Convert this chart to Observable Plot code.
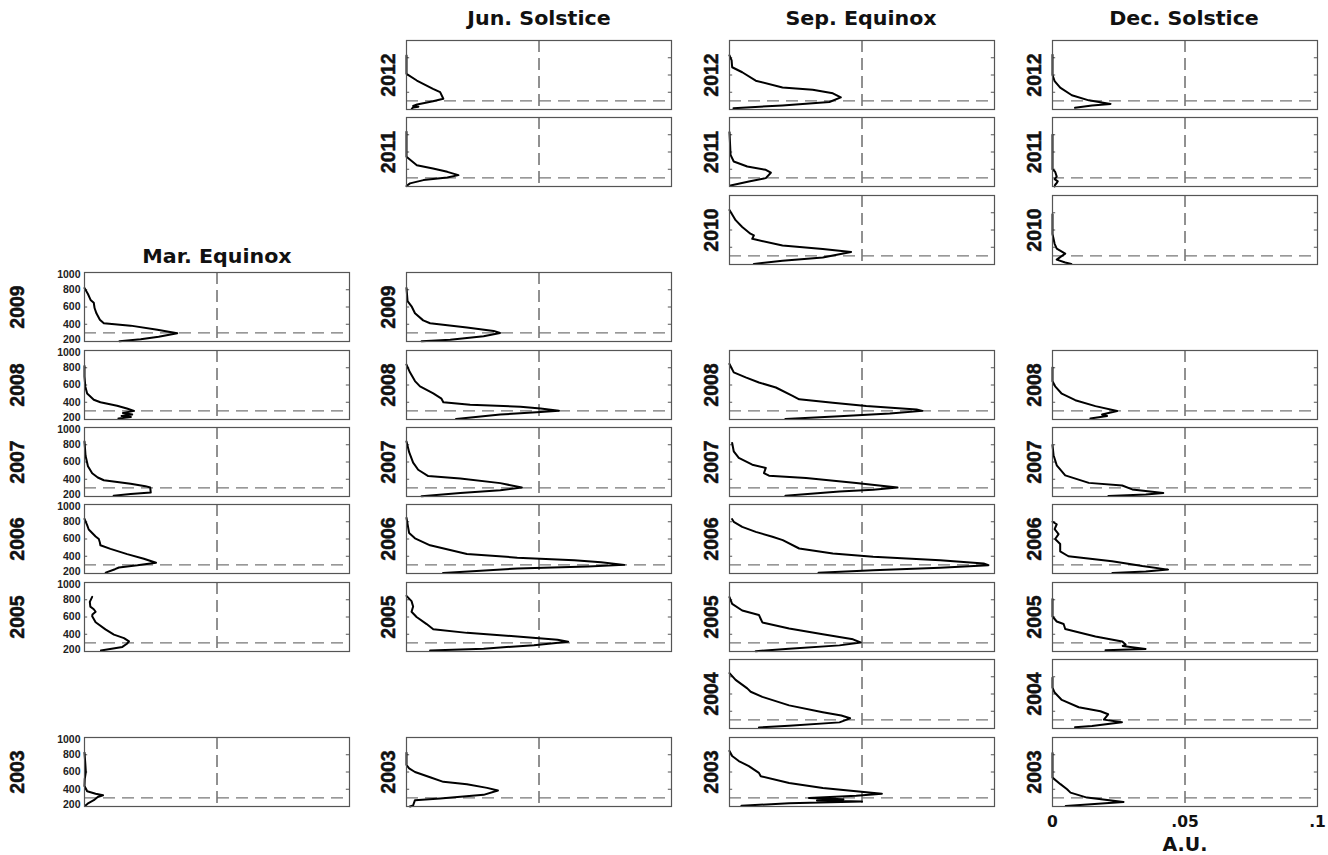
<!DOCTYPE html>
<html><head><meta charset="utf-8">
<script src="https://cdn.jsdelivr.net/npm/d3@7"></script>
<script src="https://cdn.jsdelivr.net/npm/@observablehq/plot@0.6"></script>
<style>
body{margin:0;background:#fff;font-family:"Liberation Sans",Arial,sans-serif;}
#chart{position:relative;width:1328px;height:855px;overflow:hidden;background:#fff;}
.title{position:absolute;transform:translate(-50%,-50%) scaleX(1.03);font-family:"DejaVu Sans",sans-serif;font-weight:bold;font-size:20px;color:#111;white-space:nowrap;}
.panel{position:absolute;}
.panel svg{overflow:visible;background:none;}
</style></head><body><div id="chart"></div>
<script>
// ---- categories & ticks ----
const seasons = ["Mar. Equinox", "Jun. Solstice", "Sep. Equinox", "Dec. Solstice"];
const years = [2012, 2011, 2010, 2009, 2008, 2007, 2006, 2005, 2004, 2003];
const yTicks = [200, 400, 600, 800, 1000];
const xTicks = [0, 0.05, 0.1];
const xTickLabels = ["0", ".05", ".1"];
const xLabel = "A.U.";
const refAltitude = 300;
const refValue = 0.05;

// ---- profiles: [altitude, value] ----
const mar2009 = [[820,0],[751,.0013],[682,.0023],[649,.0035],[588,.0038],[527,.0045],[453,.0058],[412,.0073],[384,.0174],[335,.0275],[295,.0350],[255,.0280],[225,.0212],[203,.0132]];
const mar2008 = [[820,0],[700,0],[584,.0003],[502,.0010],[429,.0035],[400,.0060],[359,.0123],[327,.0160],[300,.0187],[275,.0145],[258,.0180],[240,.0140],[228,.0175],[212,.0128]];
const mar2007 = [[837,0],[673,.0004],[551,.0013],[469,.0029],[420,.0050],[388,.0073],[347,.0174],[320,.0230],[305,.0248],[245,.0250],[228,.0174],[210,.0110]];
const mar2006 = [[833,0],[760,.0010],[710,.0016],[629,.0042],[600,.0054],[560,.0058],[527,.0060],[486,.0098],[425,.0161],[371,.0224],[325,.0270],[295,.0200],[270,.0130],[250,.0115],[210,.0080]];
const mar2005 = [[833,.0029],[776,.0020],[720,.0022],[690,.0035],[661,.0042],[630,.0030],[608,.0029],[539,.0042],[457,.0079],[396,.0111],[355,.0149],[318,.0168],[290,.0160],[253,.0143],[212,.0062]];
const mar2003 = [[824,0],[700,.0003],[600,.0005],[520,.0001],[437,0],[376,.0010],[347,.0042],[330,.0070],[310,.0050],[273,.0035],[240,.0015],[212,.0004]];

const jun2012 = [[826,0],[614,0],[536,.0039],[440,.0100],[401,.0127],[324,.0139],[296,.0100],[258,.0040],[240,.0025],[232,.0045],[222,.0025],[208,.0020]];
const jun2011 = [[834,0],[544,0],[447,.0039],[409,.0100],[370,.0154],[332,.0196],[305,.0154],[274,.0064],[236,.0013],[205,0]];
const jun2009 = [[820,0],[669,.0004],[608,.0019],[527,.0032],[445,.0063],[412,.0089],[363,.0228],[323,.0329],[298,.0353],[261,.0291],[220,.0165],[203,.0057]];
const jun2008 = [[837,0],[747,.0013],[645,.0032],[584,.0051],[502,.0101],[441,.0132],[400,.0139],[372,.0240],[347,.0430],[327,.0506],[302,.0575],[286,.0506],[257,.0354],[207,.0187]];
const jun2007 = [[837,0],[714,.0010],[592,.0025],[510,.0044],[437,.0082],[408,.0203],[355,.0354],[304,.0435],[273,.0354],[241,.0203],[204,.0057]];
const jun2006 = [[845,0],[669,.0010],[608,.0032],[527,.0089],[425,.0228],[384,.0418],[355,.0633],[331,.0734],[300,.0822],[282,.0684],[257,.0418],[207,.0138]];
const jun2005 = [[845,0],[784,.0019],[722,.0025],[661,.0019],[600,.0038],[518,.0076],[457,.0101],[416,.0228],[375,.0418],[335,.0570],[312,.0610],[273,.0481],[233,.0291],[212,.0089]];
const jun2003 = [[824,0],[681,0],[641,.0010],[600,.0032],[539,.0089],[486,.0139],[457,.0228],[416,.0304],[385,.0345],[335,.0291],[294,.0127],[273,.0032],[240,.0028],[212,.0025],[200,.0013]];

const sep2012 = [[828,0],[769,.0008],[690,.0010],[632,.0048],[534,.0099],[455,.0200],[428,.0314],[388,.0390],[340,.0420],[287,.0377],[247,.0200],[215,.0015]];
const sep2011 = [[830,0],[567,.0004],[490,.0016],[432,.0067],[393,.0137],[360,.0156],[297,.0137],[258,.0073],[212,.0004]];
const sep2010 = [[831,0],[714,.0023],[635,.0048],[557,.0079],[537,.0092],[498,.0086],[420,.0200],[380,.0352],[345,.0459],[282,.0352],[243,.0200],[207,.0092]];
const sep2008 = [[844,0],[746,.0016],[688,.0061],[629,.0111],[571,.0175],[473,.0238],[434,.0263],[395,.0390],[356,.0516],[317,.0706],[300,.0728],[270,.0605],[239,.0415],[207,.0211]];
const sep2007 = [[821,.0010],[724,.0016],[647,.0035],[569,.0086],[531,.0137],[472,.0130],[441,.0149],[414,.0289],[356,.0478],[303,.0634],[278,.0542],[259,.0415],[208,.0211]];
const sep2006 = [[830,.0010],[799,.0016],[741,.0048],[683,.0099],[626,.0162],[587,.0201],[490,.0263],[433,.0390],[394,.0542],[355,.0795],[317,.0959],[297,.0977],[266,.0795],[239,.0542],[210,.0336]];
const sep2005 = [[831,0],[753,.0010],[675,.0048],[624,.0111],[577,.0118],[537,.0124],[467,.0225],[400,.0352],[341,.0466],[304,.0495],[271,.0415],[232,.0225],[204,.0099]];
const sep2004 = [[842,0],[764,.0023],[665,.0067],[626,.0080],[567,.0124],[468,.0225],[389,.0352],[350,.0422],[318,.0455],[271,.0415],[232,.0225],[212,.0111]];
const sep2003 = [[844,0],[785,.0010],[727,.0035],[668,.0073],[590,.0111],[551,.0118],[473,.0225],[415,.0352],[376,.0478],[348,.0575],[325,.0478],[298,.0300],[284,.0430],[270,.0330],[258,.0500],[239,.0225],[208,.0045]];

const dec2012 = [[835,0],[600,0],[529,.0008],[453,.0029],[365,.0073],[306,.0137],[265,.0219],[247,.0149],[220,.0085]];
const dec2011 = [[800,0],[400,0],[371,.0010],[314,.0016],[286,.0008],[260,.0020],[240,.0016],[220,.0010],[200,.0008]];
const dec2010 = [[783,0],[554,0],[440,.0008],[383,.0016],[326,.0048],[286,.0029],[257,.0016],[223,.0048],[205,.0071]];
const dec2008 = [[804,0],[643,0],[585,.0010],[499,.0035],[424,.0086],[355,.0162],[298,.0244],[258,.0187],[240,.0206],[212,.0143]];
const dec2007 = [[796,0],[679,.0004],[562,.0016],[445,.0048],[358,.0137],[328,.0263],[282,.0301],[240,.0418],[222,.0352],[205,.0211]];
const dec2006 = [[800,0],[771,.0016],[714,.0008],[657,.0023],[600,.0010],[543,.0029],[457,.0029],[400,.0060],[343,.0225],[286,.0339],[245,.0436],[223,.0352],[205,.0226]];
const dec2005 = [[809,0],[606,0],[548,.0016],[519,.0042],[461,.0048],[374,.0162],[316,.0263],[280,.0276],[265,.0265],[230,.0351],[215,.0200]];
const dec2004 = [[789,0],[674,0],[617,.0008],[531,.0035],[446,.0099],[400,.0181],[365,.0210],[303,.0194],[272,.0262],[229,.0149],[215,.0085]];
const dec2003 = [[821,0],[535,0],[459,.0030],[400,.0055],[361,.0068],[303,.0130],[253,.0268],[205,.0050]];

const panels = [
  [0, 2009, mar2009], [0, 2008, mar2008], [0, 2007, mar2007], [0, 2006, mar2006], [0, 2005, mar2005], [0, 2003, mar2003],
  [1, 2012, jun2012], [1, 2011, jun2011], [1, 2009, jun2009], [1, 2008, jun2008], [1, 2007, jun2007], [1, 2006, jun2006], [1, 2005, jun2005], [1, 2003, jun2003],
  [2, 2012, sep2012], [2, 2011, sep2011], [2, 2010, sep2010], [2, 2008, sep2008], [2, 2007, sep2007], [2, 2006, sep2006], [2, 2005, sep2005], [2, 2004, sep2004], [2, 2003, sep2003],
  [3, 2012, dec2012], [3, 2011, dec2011], [3, 2010, dec2010], [3, 2008, dec2008], [3, 2007, dec2007], [3, 2006, dec2006], [3, 2005, dec2005], [3, 2004, dec2004], [3, 2003, dec2003]
];

// ---- layout ----
const FRAME_W = 265, FRAME_H = 69;
const colLeft = [84, 406, 729, 1052];
const rowTop = y => 40 + years.indexOf(y) * 77.4;
const titlePos = [[217, 256], [539, 18], [861, 18], [1184, 18]];

const chart = document.getElementById("chart");

seasons.forEach((s, i) => {
  const d = document.createElement("div");
  d.className = "title";
  d.textContent = s;
  d.style.left = titlePos[i][0] + "px";
  d.style.top = titlePos[i][1] + "px";
  chart.appendChild(d);
});

const tickFont = {fontSize: 10.5, fontWeight: "bold", fill: "#222", tickSize: 0, tickPadding: 4, anchor: "left", label: null, tickFormat: d => String(d)};

panels.forEach(([col, year, profile]) => {
  const first = col === 0;
  const last = col === 3 && year === 2003;
  const ml = first ? 82 : 32, mr = 4, mt = 4, mb = last ? 54 : 4;
  const data = profile.map(([alt, v]) => ({alt, v}));
  const inner = yTicks.slice(1, 4);
  const marks = [
    Plot.ruleY(inner, {x1: 0, x2: 0.0012, stroke: "#555"}),
    Plot.ruleY(inner, {x1: 0.0988, x2: 0.1, stroke: "#555"}),
    Plot.ruleX([refValue], {stroke: "#222", strokeDasharray: "12,6", strokeWidth: 1}),
    Plot.ruleY([refAltitude], {stroke: "#777", strokeDasharray: "12,7", strokeWidth: 1.2}),
    Plot.line(data, {x: "v", y: "alt", stroke: "#000", strokeWidth: 2, strokeLinejoin: "round"}),
    Plot.frame({stroke: "#555", strokeWidth: 1.2}),
    Plot.text([String(year)], {text: d => d, frameAnchor: "left", textAnchor: "middle", dx: first ? -67 : -18, rotate: -90, fontSize: 19.5, fontWeight: "bold", fill: "#111", stroke: "#111", strokeWidth: 0.5})
  ];
  if (first) {
    marks.push(Plot.axisY(yTicks.slice(1, 4), tickFont));
    marks.push(Plot.axisY([yTicks[4]], {...tickFont, dy: 2}));
    marks.push(Plot.axisY([yTicks[0]], {...tickFont, dy: -2}));
  }
  if (last) {
    marks.push(Plot.axisX(xTicks, {anchor: "bottom", tickSize: 0, tickPadding: 9, tickFormat: d => xTickLabels[xTicks.indexOf(d)], fontFamily: "DejaVu Sans, sans-serif", fontSize: 15.5, fontWeight: "bold", fill: "#111", label: null}));
    marks.push(Plot.text([xLabel], {text: d => d, frameAnchor: "bottom", dy: 44, fontFamily: "DejaVu Sans, sans-serif", fontSize: 19, fontWeight: "bold", fill: "#111"}));
  }
  const svg = Plot.plot({
    width: ml + FRAME_W + mr,
    height: mt + FRAME_H + mb,
    marginLeft: ml, marginRight: mr, marginTop: mt, marginBottom: mb,
    x: {domain: [0, 0.1], axis: null},
    y: {domain: [200, 1000], axis: null},
    style: {fontFamily: "Liberation Sans, Arial, sans-serif", background: "none", overflow: "visible"},
    marks
  });
  const wrap = document.createElement("div");
  wrap.className = "panel";
  wrap.style.left = (colLeft[col] - ml) + "px";
  wrap.style.top = (rowTop(year) - mt) + "px";
  wrap.appendChild(svg);
  chart.appendChild(wrap);
});
</script></body></html>
